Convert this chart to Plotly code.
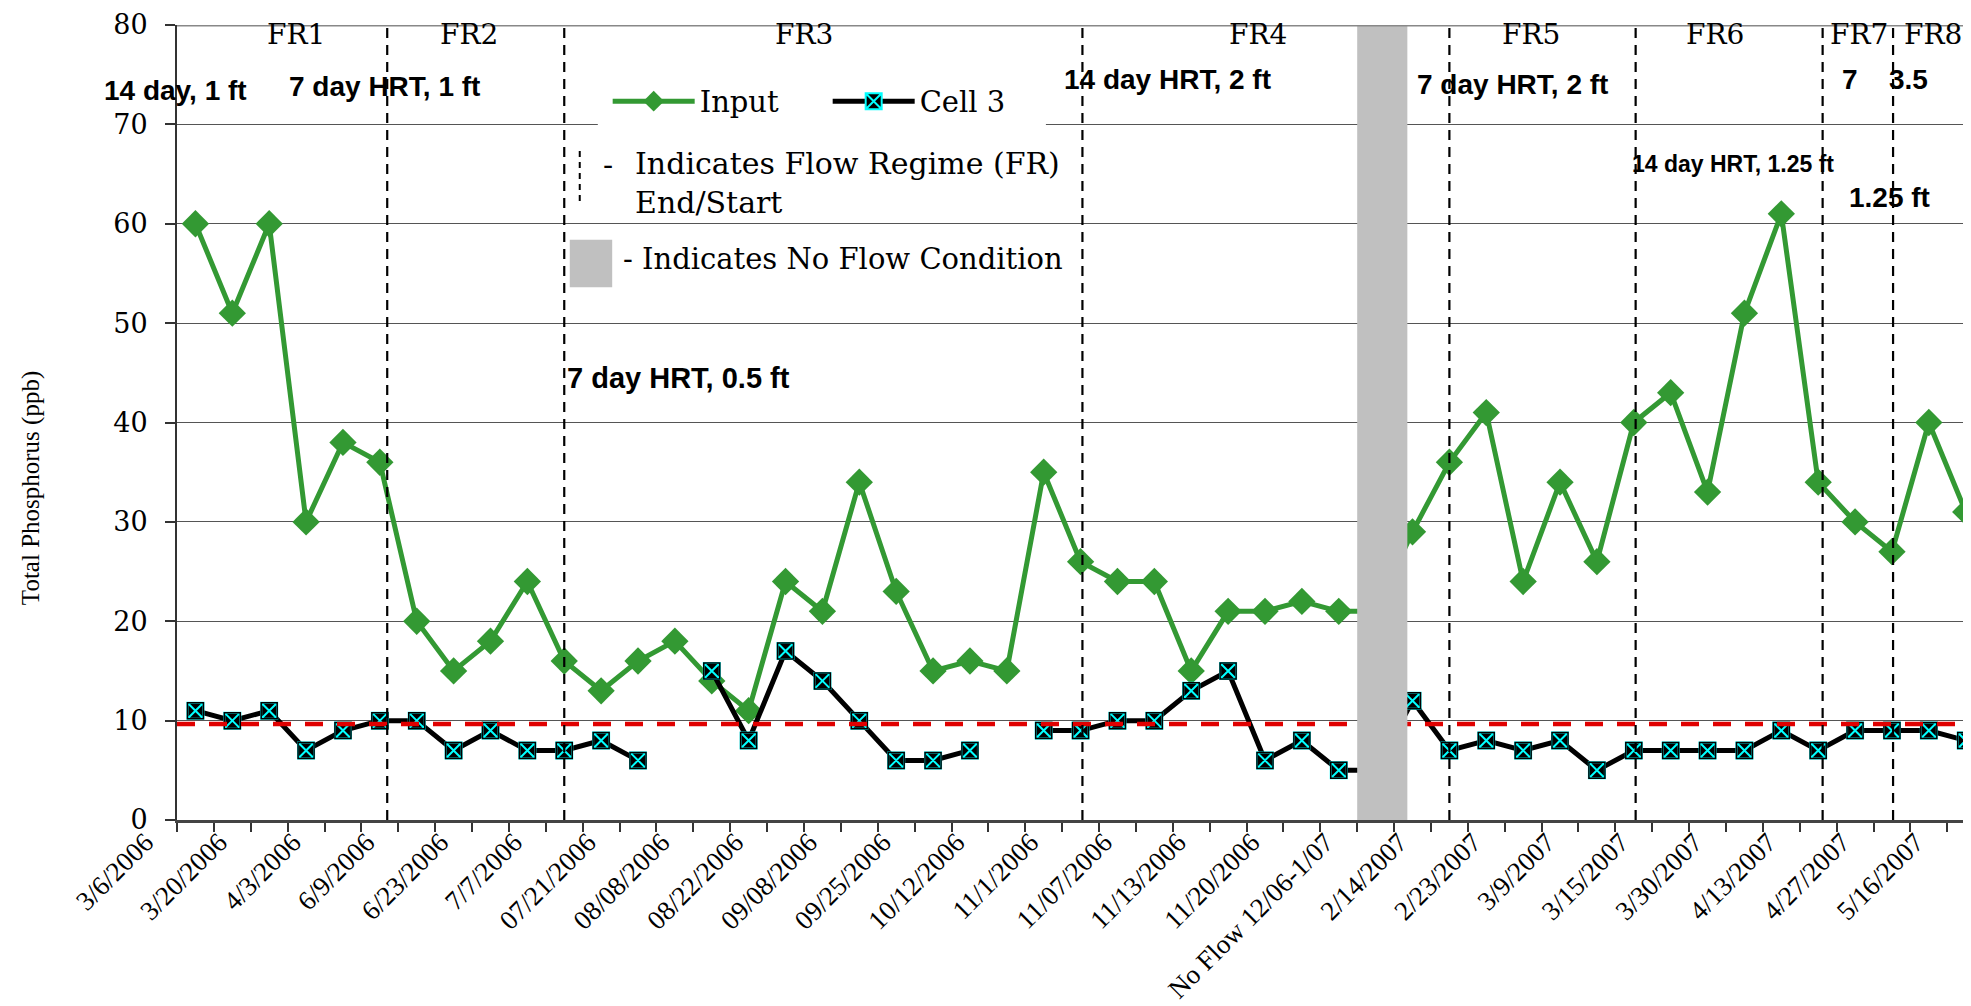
import plotly.graph_objects as go

# ---------------- data ----------------
sample_index = list(range(49))  # one category per sampling event (49 categories)

tick_labels = ["3/6/2006", "3/20/2006", "4/3/2006", "6/9/2006", "6/23/2006", "7/7/2006",
               "07/21/2006", "08/08/2006", "08/22/2006", "09/08/2006", "09/25/2006",
               "10/12/2006", "11/1/2006", "11/07/2006", "11/13/2006", "11/20/2006",
               "No Flow 12/06-1/07", "2/14/2007", "2/23/2007", "3/9/2007", "3/15/2007",
               "3/30/2007", "4/13/2007", "4/27/2007", "5/16/2007"]
tick_positions = sample_index[::2]

input_tp = [60, 51, 60, 30, 38, 36, 20, 15, 18, 24, 16, 13, 16, 18, 14, 11, 24, 21, 34, 23,
            15, 16, 15, 35, 26, 24, 24, 15, 21, 21, 22, 21, 21, 29, 36, 41, 24, 34, 26, 40,
            43, 33, 51, 61, 34, 30, 27, 40, 31]
cell3_tp = [11, 10, 11, 7, 9, 10, 10, 7, 9, 7, 7, 8, 6, None, 15, 8, 17, 14, 10, 6,
            6, 7, None, 9, 9, 10, 10, 13, 15, 6, 8, 5, 5, 12, 7, 8, 7, 8, 5, 7,
            7, 7, 7, 9, 7, 9, 9, 9, 8]

target_level = 9.65
regime_boundaries = [5.2, 10.0, 24.05, 34.0, 39.05, 44.12, 46.03, 48.22]
no_flow_span = (31.5, 32.86)

regime_names = ["FR1", "FR2", "FR3", "FR4", "FR5", "FR6", "FR7", "FR8"]
regime_label_x = [2.72, 7.41, 16.5, 28.8, 36.2, 41.2, 45.1, 47.1]

hrt_labels = ["7 day HRT, 1 ft", "14 day HRT, 2 ft", "7 day HRT, 2 ft", "7", "3.5", "1.25 ft"]
hrt_x = [5.13, 26.37, 35.7, 44.85, 46.44, 45.92]
hrt_y = [73.8, 74.5, 74.0, 74.5, 74.5, 62.6]

SERIF = "Liberation Serif, Times New Roman, serif"
WSERIF = "DejaVu Serif, Liberation Serif, serif"
SANS = "Liberation Sans, Arial, sans-serif"
GREEN = "#339933"

fig = go.Figure()
fig.add_trace(go.Scatter(
    x=sample_index, y=input_tp, mode="lines+markers", name="Input",
    line=dict(color=GREEN, width=5),
    marker=dict(symbol="diamond", size=21, color=GREEN),
    connectgaps=False))
fig.add_trace(go.Scatter(
    x=sample_index, y=cell3_tp, mode="lines+markers", name="Cell 3",
    line=dict(color="black", width=5),
    marker=dict(symbol="square-x", size=16, color="black",
                line=dict(color="#00FFFF", width=2)),
    connectgaps=False))
# black rim around the Cell 3 markers
fig.add_trace(go.Scatter(
    x=sample_index, y=cell3_tp, mode="markers", showlegend=False, hoverinfo="skip",
    marker=dict(symbol="square-open", size=16, color="black", line=dict(color="black", width=1.5))))

shapes = []
# white box behind the legend hides the 70 gridline
shapes.append(dict(type="rect", xref="x", yref="y", x0=10.91, x1=23.06, y0=69.0, y1=72.5,
                   fillcolor="white", line=dict(width=0), layer="between"))
# target line
shapes.append(dict(type="line", xref="paper", yref="y", x0=0, x1=1, y0=target_level, y1=target_level,
                   line=dict(color="#E00000", width=4.5, dash="18px,14px"), layer="above"))
# flow regime boundaries
for b in regime_boundaries:
    shapes.append(dict(type="line", xref="x", yref="y", x0=b, x1=b, y0=0, y1=80,
                       line=dict(color="black", width=2.2, dash="10px,7px"), layer="above"))
# no-flow period
shapes.append(dict(type="rect", xref="x", yref="y", x0=no_flow_span[0], x1=no_flow_span[1],
                   y0=0, y1=80, fillcolor="#C0C0C0", line=dict(width=0), layer="above"))
# top border
shapes.append(dict(type="line", xref="paper", yref="y", x0=0, x1=1, y0=80, y1=80,
                   line=dict(color="#888888", width=3), layer="above"))
# legend icons
shapes.append(dict(type="line", xref="x", yref="y", x0=10.42, x1=10.42, y0=62.3, y1=67.6,
                   line=dict(color="black", width=2, dash="6px,5px"), layer="above"))
shapes.append(dict(type="rect", xref="x", yref="y", x0=10.15, x1=11.3, y0=53.6, y1=58.4,
                   fillcolor="#C0C0C0", line=dict(width=0), layer="above"))

ann = []
for name, xv in zip(regime_names, regime_label_x):
    ann.append(dict(x=xv, y=79.0, xref="x", yref="y", text=name, showarrow=False,
                    font=dict(family=WSERIF, size=28, color="black")))
ann.append(dict(x=-0.001, y=73.4, xref="paper", yref="y", xanchor="center",
                text="<b>14 day, 1 ft</b>",
                showarrow=False, font=dict(family=SANS, size=28, color="black")))
for t, xv, yv in zip(hrt_labels, hrt_x, hrt_y):
    ann.append(dict(x=xv, y=yv, xref="x", yref="y", text="<b>" + t + "</b>", showarrow=False,
                    font=dict(family=SANS, size=28, color="black")))
ann.append(dict(x=41.7, y=66.0, xref="x", yref="y", text="<b>14 day HRT, 1.25 ft</b>",
                showarrow=False, font=dict(family=SANS, size=23, color="black")))
ann.append(dict(x=10.02, y=44.5, xref="x", yref="y", text="<b>7 day HRT, 0.5 ft</b>",
                xanchor="left", showarrow=False, font=dict(family=SANS, size=29, color="black")))
ann.append(dict(x=11.18, y=66.0, xref="x", yref="y", text="-", showarrow=False,
                font=dict(family=WSERIF, size=30, color="black")))
ann.append(dict(x=11.86, y=64.1, xref="x", yref="y", xanchor="left", align="left",
                text="Indicates Flow Regime (FR)<br>End/Start", showarrow=False,
                font=dict(family=WSERIF, size=30, color="black")))
ann.append(dict(x=11.54, y=56.5, xref="x", yref="y", xanchor="left",
                text="- Indicates No Flow Condition", showarrow=False,
                font=dict(family=WSERIF, size=29, color="black")))
ann.append(dict(x=-0.081, y=0.4175, xref="paper", yref="paper", xanchor="center", yanchor="middle",
                text="Total Phosphorus (ppb)",
                textangle=-90, showarrow=False, font=dict(family=SERIF, size=25, color="black")))

fig.update_layout(
    width=1971, height=1006,
    margin=dict(l=169, r=0, t=17, b=194, autoexpand=False),
    plot_bgcolor="white", paper_bgcolor="white",
    shapes=shapes, annotations=ann,
    showlegend=True,
    legend=dict(orientation="h", x=0.239, y=0.904, xanchor="left", yanchor="middle",
                bgcolor="rgba(0,0,0,0)", font=dict(family=WSERIF, size=29, color="black"),
                itemwidth=82, entrywidth=123, entrywidthmode="pixels"),
    xaxis=dict(range=[-0.5, 48.36], tickmode="array", tickvals=tick_positions,
               ticktext=tick_labels, tickangle=-45, automargin=False,
               tickfont=dict(family=SERIF, size=27, color="black"),
               ticks="outside", ticklen=0, showgrid=False, zeroline=False,
               showline=True, linecolor="#444444", linewidth=2.5,
               ticklabelshift=-50, ticklabelstandoff=-7,
               minor=dict(tickmode="linear", tick0=-0.5, dtick=1, ticks="outside",
                          ticklen=9, tickwidth=1.5, tickcolor="#333333", showgrid=False)),
    yaxis=dict(range=[0, 80], tick0=0, dtick=10, ticks="outside", ticklen=10,
               tickwidth=1.5, tickcolor="#333333", showgrid=True, gridcolor="#555555",
               gridwidth=1.2, showline=True, linecolor="#333333", linewidth=2,
               zeroline=False, automargin=False,
               tickfont=dict(family=WSERIF, size=27, color="black"),
               ticklabelstandoff=12),
)

fig.write_html("out.html")
